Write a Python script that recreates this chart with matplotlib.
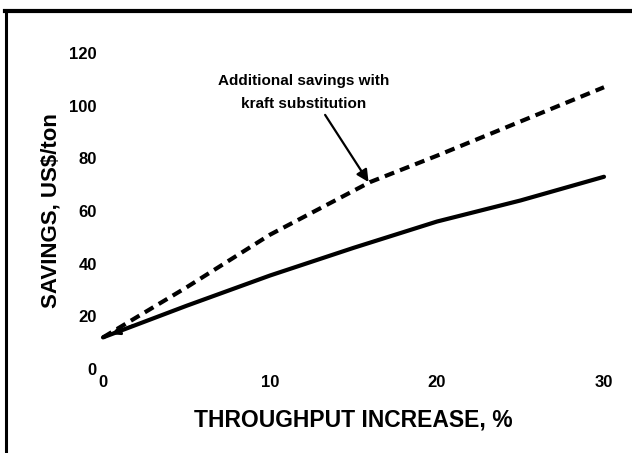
import matplotlib.pyplot as plt
from matplotlib.lines import Line2D

# Values
throughput = [0, 5, 10, 15, 17, 20, 25, 30]
savings_base = [12, 24, 35.5, 46, 50, 56, 64, 73]

throughput_kraft = [0, 5, 10, 16, 20, 25, 30]
savings_kraft = [12, 31, 51, 71, 81, 94, 107]

x_ticks = [0, 10, 20, 30]
y_ticks = [0, 20, 40, 60, 80, 100, 120]

note_text = "Additional savings with\nkraft substitution"
note_xy = (15.9, 71)
note_tail = (13.3, 96.5)
note_pos = (12.0, 105)

font = ['Liberation Sans', 'DejaVu Sans']
plt.rcParams['font.family'] = font
plt.rcParams['font.weight'] = 'bold'

fig = plt.figure(figsize=(6.32, 4.53), dpi=100)
ax = fig.add_axes([103 / 632, 1 - 369 / 453, 501 / 632, 316 / 453])

ax.plot(throughput, savings_base, color='black', lw=3, solid_capstyle='round',
        clip_on=False)
ax.plot(throughput_kraft, savings_kraft, color='black', lw=3,
        linestyle=(0, (2.4, 1.5)), clip_on=False)

# note and arrow to the kraft line
ax.text(*note_pos, note_text, ha='center', va='center', fontsize=11,
        fontweight='bold', linespacing=1.75)
ax.annotate('', xy=note_xy, xytext=note_tail,
            arrowprops=dict(arrowstyle='-|>', color='black', lw=1.6,
                            mutation_scale=18, shrinkA=0, shrinkB=0))
# small arrowhead at the start of the dashed line
ax.annotate('', xy=(0.5, 13.2), xytext=(1.8, 16.5),
            arrowprops=dict(arrowstyle='-|>', color='black', lw=2,
                            mutation_scale=12, shrinkA=0, shrinkB=0))

ax.set_xlim(0, 30)
ax.set_ylim(0, 120)
ax.set_xticks(x_ticks)
ax.set_yticks(y_ticks)
ax.tick_params(length=0, labelsize=12, pad=4.5)
ax.tick_params(axis='x', pad=4.5)
for lab in ax.get_xticklabels() + ax.get_yticklabels():
    lab.set_fontweight('bold')
for s in ax.spines.values():
    s.set_visible(False)

ax.set_xlabel("THROUGHPUT INCREASE, %", fontsize=16.5, fontweight='bold')
ax.xaxis.set_label_coords(0.5, -0.125)
ax.set_ylabel("SAVINGS, US$/ton", fontsize=16, fontweight='bold')
ax.yaxis.set_label_coords(-0.082, 0.5)

# page frame (top and left edges only)
fig.add_artist(Line2D([5 / 632, 1], [1 - 11 / 453, 1 - 11 / 453],
                      color='black', lw=3, transform=fig.transFigure))
fig.add_artist(Line2D([6 / 632, 6 / 632], [0, 1 - 11 / 453],
                      color='black', lw=2.2, transform=fig.transFigure))

fig.savefig('out.png', dpi=100)
